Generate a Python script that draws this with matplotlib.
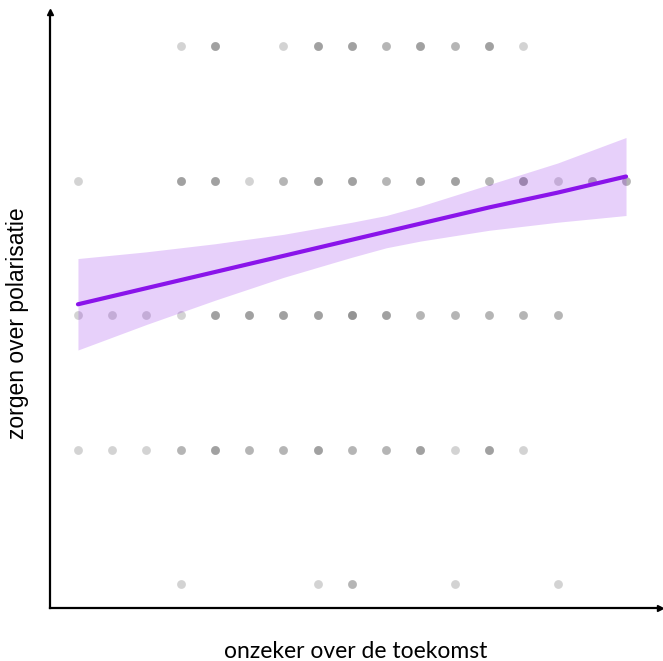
"""
Spreidingsdiagram: onzeker over de toekomst vs zorgen over polarisatie
"""
import matplotlib
matplotlib.use("Agg")
import matplotlib.pyplot as plt

# ======================== data ========================
# x-schaal loopt van 1 t/m 5 in stappen van 0.25 (17 niveaus)
x_levels = [1.0, 1.25, 1.5, 1.75, 2.0, 2.25, 2.5, 2.75, 3.0,
            3.25, 3.5, 3.75, 4.0, 4.25, 4.5, 4.75, 5.0]

# per y-niveau: index in x_levels -> aantal respondenten (schatting via grijstint)
counts_y5 = {3: 1, 4: 3, 6: 1, 7: 3, 8: 3, 9: 2, 10: 3, 11: 2, 12: 3, 13: 1}
counts_y4 = {0: 1, 3: 3, 4: 3, 5: 1, 6: 2, 7: 3, 8: 3, 9: 2, 10: 3,
             11: 3, 12: 2, 13: 3, 14: 1, 15: 2, 16: 2}
counts_y3 = {0: 1, 1: 1, 2: 1, 3: 1, 4: 3, 5: 3, 6: 3, 7: 3, 8: 4,
             9: 3, 10: 2, 11: 2, 12: 2, 13: 2, 14: 2}
counts_y2 = {0: 1, 1: 1, 2: 1, 3: 2, 4: 3, 5: 2, 6: 2, 7: 3, 8: 2,
             9: 2, 10: 3, 11: 1, 12: 3, 13: 1}
counts_y1 = {3: 1, 7: 1, 8: 2, 11: 1, 14: 1}

# regressielijn + betrouwbaarheidsband
fit_x = [1.0, 1.5, 2.0, 2.5, 3.0, 3.25, 3.5, 4.0, 4.5, 5.0]
fit_y = [3.08, 3.20, 3.32, 3.44, 3.56, 3.62, 3.68, 3.80, 3.91, 4.03]
ci_low = [2.74, 2.93, 3.11, 3.28, 3.43, 3.50, 3.55, 3.63, 3.69, 3.74]
ci_high = [3.42, 3.47, 3.53, 3.60, 3.69, 3.74, 3.81, 3.97, 4.13, 4.32]

x_label = "onzeker over de toekomst"
y_label = "zorgen over polarisatie"
# ================================================================================

LINE_COLOR = "#8a14ea"

# punten uitschrijven (overlappende punten geven donkerder grijs)
xs, ys = [], []
for yv, cnt in [(5, counts_y5), (4, counts_y4), (3, counts_y3), (2, counts_y2), (1, counts_y1)]:
    for idx, n in cnt.items():
        xs += [x_levels[idx]] * n
        ys += [yv] * n

fig = plt.figure(figsize=(6.63, 6.61), dpi=100)
ax = fig.add_axes([50 / 663, 53 / 661, 610 / 663, 596 / 661])

ax.scatter(xs, ys, s=40, color="#7a7a7a", alpha=0.33, linewidths=0, zorder=1)
ax.fill_between(fit_x, ci_low, ci_high, color=LINE_COLOR, alpha=0.2, linewidth=0, zorder=2)
ax.plot(fit_x, fit_y, color=LINE_COLOR, linewidth=3, solid_capstyle="round", zorder=3)

ax.set_xlim(0.796, 5.248)
ax.set_ylim(0.822, 5.253)
ax.set_xticks([])
ax.set_yticks([])
for side in ["top", "right"]:
    ax.spines[side].set_visible(False)
for side in ["left", "bottom"]:
    ax.spines[side].set_linewidth(1.6)
    ax.spines[side].set_color("black")

# pijlpunten aan de assen
ax.plot(1, 0, ">k", markersize=4, transform=ax.transAxes, clip_on=False)
ax.plot(0, 1, "^k", markersize=4, transform=ax.transAxes, clip_on=False)

fig.text(356 / 663, 1 - 652 / 661, x_label, ha="center", va="center",
         fontsize=16.5, family=["Lato", "DejaVu Sans"])
fig.text(18 / 663, 1 - 323 / 661, y_label, ha="center", va="center", rotation=90,
         fontsize=16.5, family=["Liberation Sans", "DejaVu Sans"])

fig.savefig("out.png", dpi=100)
